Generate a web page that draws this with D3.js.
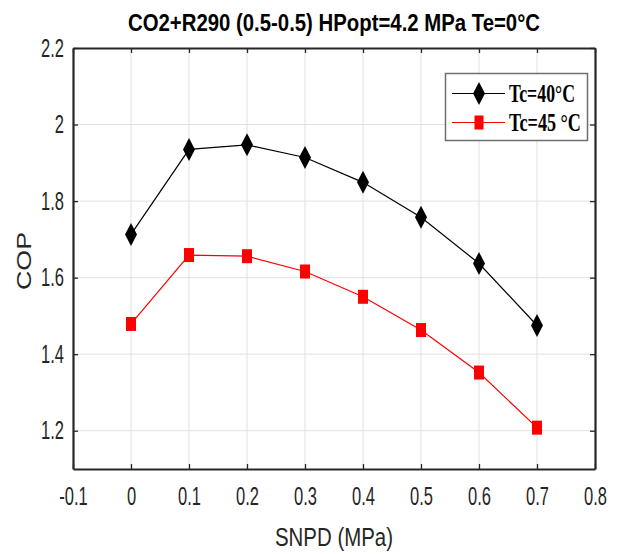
<!DOCTYPE html>
<html><head><meta charset="utf-8">
<script src="https://cdn.jsdelivr.net/npm/d3@7"></script>
<style>html,body{margin:0;padding:0;background:#fff;}svg{display:block;}</style>
</head><body>
<script>
const snpd = [0, 0.1, 0.2, 0.3, 0.4, 0.5, 0.6, 0.7];
const copTc40 = [1.713, 1.935, 1.947, 1.914, 1.849, 1.758, 1.637, 1.475];
const copTc45 = [1.479, 1.659, 1.656, 1.616, 1.550, 1.463, 1.352, 1.208];
const xTickValues = [-0.1, 0, 0.1, 0.2, 0.3, 0.4, 0.5, 0.6, 0.7, 0.8];
const xTickLabels = ["-0.1", "0", "0.1", "0.2", "0.3", "0.4", "0.5", "0.6", "0.7", "0.8"];
const yTickValues = [1.2, 1.4, 1.6, 1.8, 2.0, 2.2];
const yTickLabels = ["1.2", "1.4", "1.6", "1.8", "2", "2.2"];
const seriesNames = ["Tc=40°C", "Tc=45 °C"];
const titleText = "CO2+R290 (0.5-0.5) HPopt=4.2 MPa Te=0°C";
const xLabel = "SNPD (MPa)";
const yLabel = "COP";

const W = 617, H = 554;
const L = 73, R = 595, T = 48, B = 469;
const svg = d3.select("body").append("svg").attr("width", W).attr("height", H);

const x = d3.scaleLinear().domain([-0.1, 0.8]).range([L, R]);
const y = d3.scaleLinear().domain([1.1, 2.2]).range([B, T]);

function squeeze(sel, f) {
  sel.each(function() {
    const w = this.getComputedTextLength();
    d3.select(this).attr("textLength", w * f).attr("lengthAdjust", "spacingAndGlyphs");
  });
}

// grid
const grid = svg.append("g");
grid.selectAll("line.gx").data(xTickValues.filter(v => v > -0.1 && v < 0.8)).join("line")
  .attr("x1", d => x(d)).attr("x2", d => x(d)).attr("y1", T).attr("y2", B)
  .attr("stroke", "#e1e1e1").attr("stroke-width", 1);
grid.selectAll("line.gy").data(yTickValues.filter(v => v < 2.2)).join("line")
  .attr("y1", d => y(d)).attr("y2", d => y(d)).attr("x1", L).attr("x2", R)
  .attr("stroke", "#e1e1e1").attr("stroke-width", 1);

// axes
const axColor = "#262626";
const xFmt = (d, i) => xTickLabels[i];
const yFmt = (d, i) => yTickLabels[i];
const xAxis = svg.append("g").attr("transform", `translate(0,${B})`)
  .call(d3.axisBottom(x).tickValues(xTickValues).tickSizeInner(-5).tickSizeOuter(0).tickPadding(18).tickFormat(xFmt));
const xAxisTop = svg.append("g").attr("transform", `translate(0,${T})`)
  .call(d3.axisTop(x).tickValues(xTickValues).tickSizeInner(-5).tickSizeOuter(0).tickFormat(""));
const yAxis = svg.append("g").attr("transform", `translate(${L},0)`)
  .call(d3.axisLeft(y).tickValues(yTickValues).tickSizeInner(-5).tickSizeOuter(0).tickPadding(9).tickFormat(yFmt));
const yAxisR = svg.append("g").attr("transform", `translate(${R},0)`)
  .call(d3.axisRight(y).tickValues(yTickValues).tickSizeInner(-5).tickSizeOuter(0).tickFormat(""));
[xAxis, xAxisTop, yAxis, yAxisR].forEach(a => {
  a.select(".domain").attr("stroke", axColor).attr("stroke-width", 2.2);
  a.selectAll(".tick line").attr("stroke", axColor).attr("stroke-width", 1.3);
});
xAxis.selectAll(".tick text").attr("font-family", "Liberation Sans, Arial, sans-serif")
  .attr("font-size", 25).attr("fill", axColor).attr("dy", "0.71em");
yAxis.selectAll(".tick text").attr("font-family", "Liberation Sans, Arial, sans-serif")
  .attr("font-size", 25).attr("fill", axColor);
squeeze(xAxis.selectAll(".tick text"), 0.66);
squeeze(yAxis.selectAll(".tick text"), 0.66);

// lines
const line = d3.line().x(d => x(d[0])).y(d => y(d[1]));
const d40 = snpd.map((s, i) => [s, copTc40[i]]);
const d45 = snpd.map((s, i) => [s, copTc45[i]]);
svg.append("path").datum(d40).attr("d", line).attr("fill", "none").attr("stroke", "#000").attr("stroke-width", 1.2);
svg.append("path").datum(d45).attr("d", line).attr("fill", "none").attr("stroke", "#ff0000").attr("stroke-width", 1.2);

const diamond = (cx, cy) => `M${cx},${cy - 11.5}L${cx + 6},${cy}L${cx},${cy + 11.5}L${cx - 6},${cy}Z`;
svg.append("g").selectAll("path").data(d40).join("path")
  .attr("d", d => diamond(x(d[0]), y(d[1]))).attr("fill", "#000");
svg.append("g").selectAll("rect").data(d45).join("rect")
  .attr("x", d => x(d[0]) - 5).attr("y", d => y(d[1]) - 7).attr("width", 10).attr("height", 14)
  .attr("fill", "#ff0000");

// legend
const lg = svg.append("g");
lg.append("rect").attr("x", 445.5).attr("y", 73.5).attr("width", 142).attr("height", 67)
  .attr("fill", "#fff").attr("stroke", "#6e6e6e").attr("stroke-width", 1.5);
const legY = [93.5, 122.5];
const legColors = ["#000", "#ff0000"];
seriesNames.forEach((n, i) => {
  lg.append("line").attr("x1", 452).attr("x2", 505).attr("y1", legY[i]).attr("y2", legY[i])
    .attr("stroke", legColors[i]).attr("stroke-width", 1.2);
  if (i === 0) lg.append("path").attr("d", diamond(479, legY[i])).attr("fill", "#000");
  else lg.append("rect").attr("x", 474.5).attr("y", legY[i] - 7).attr("width", 9).attr("height", 14).attr("fill", "#ff0000");
  lg.append("text").attr("x", 509).attr("y", legY[i] + 8).text(n)
    .attr("font-family", "Liberation Serif, Times New Roman, serif").attr("font-weight", "bold")
    .attr("font-size", 25).attr("fill", "#000")
    .attr("textLength", i === 0 ? 66 : 72).attr("lengthAdjust", "spacingAndGlyphs");
});

// title and labels
svg.append("text").attr("x", 334).attr("y", 31).attr("text-anchor", "middle").text(titleText)
  .attr("font-family", "Liberation Sans, Arial, sans-serif").attr("font-weight", "bold")
  .attr("font-size", 24).attr("fill", "#000").attr("textLength", 412).attr("lengthAdjust", "spacingAndGlyphs");
svg.append("text").attr("x", 334).attr("y", 546).attr("text-anchor", "middle").text(xLabel)
  .attr("font-family", "Liberation Sans, Arial, sans-serif").attr("font-size", 25).attr("fill", axColor)
  .attr("textLength", 118).attr("lengthAdjust", "spacingAndGlyphs");
svg.append("text").attr("transform", "translate(31,261) rotate(-90)").attr("text-anchor", "middle").text(yLabel)
  .attr("font-family", "Liberation Sans, Arial, sans-serif").attr("font-size", 21).attr("fill", axColor)
  .attr("textLength", 58).attr("lengthAdjust", "spacingAndGlyphs");
</script>
</body></html>
